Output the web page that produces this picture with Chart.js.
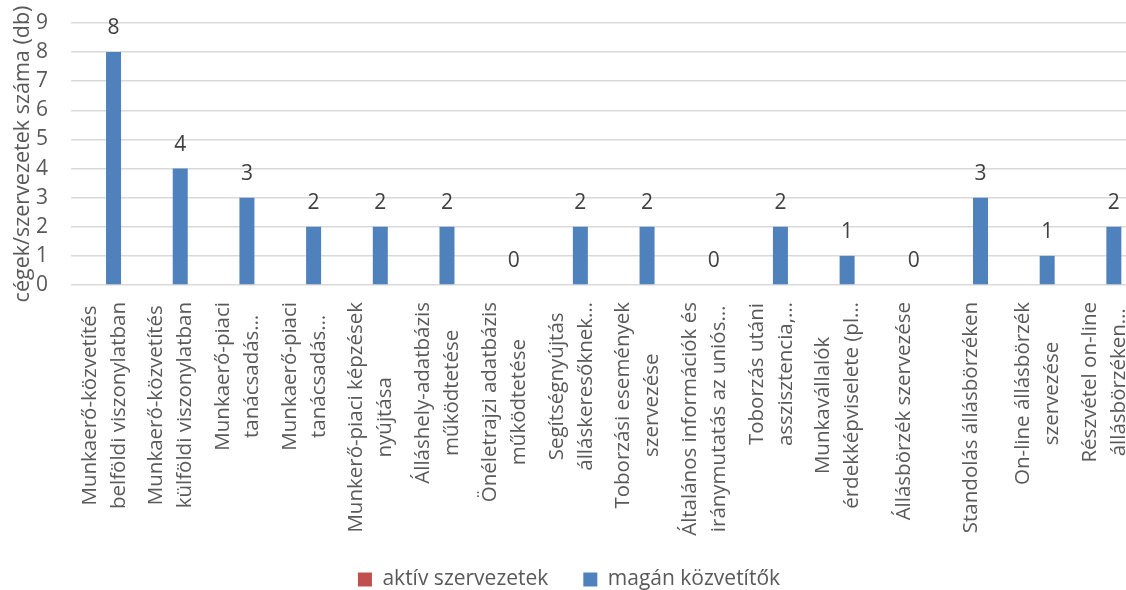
<!DOCTYPE html>
<html>
<head>
<meta charset="utf-8">
<script src="https://cdn.jsdelivr.net/npm/chart.js@4.4.0/dist/chart.umd.min.js"></script>
<style>
  html, body { margin: 0; padding: 0; background: #fff; overflow: hidden; }
  #wrap { width: 1138px; height: 600px; }
</style>
</head>
<body>
<div id="wrap"><canvas id="chart"></canvas></div>
<script>
// kategóriák (a hosszú feliratok az eredetiben is csonkolva)
const categories = [
  ['Munkaerő-közvetítés', 'belföldi viszonylatban'],
  ['Munkaerő-közvetítés', 'külföldi viszonylatban'],
  ['Munkaerő-piaci', 'tanácsadás…'],
  ['Munkaerő-piaci', 'tanácsadás…'],
  ['Munkerő-piaci képzések', 'nyújtása'],
  ['Álláshely-adatbázis', 'működtetése'],
  ['Önéletrajzi adatbázis', 'működtetése'],
  ['Segítségnyújtás', 'álláskeresőknek…'],
  ['Toborzási események', 'szervezése'],
  ['Általános információk és', 'iránymutatás az uniós…'],
  ['Toborzás utáni', 'asszisztencia,…'],
  ['Munkavállalók', 'érdekképviselete (pl…'],
  ['Állásbörzék szervezése'],
  ['Standolás állásbörzéken'],
  ['On-line állásbörzék', 'szervezése'],
  ['Részvétel on-line', 'állásbörzéken…']
];
const aktivSzervezetek = [0, 0, 0, 0, 0, 0, 0, 0, 0, 0, 0, 0, 0, 0, 0, 0];
const maganKozvetitok = [8, 4, 3, 2, 2, 2, 0, 2, 2, 0, 2, 1, 0, 3, 1, 2];
const yTicks = [0, 1, 2, 3, 4, 5, 6, 7, 8, 9];

const FONT = "'Open Sans', 'DejaVu Sans', sans-serif";
const GREY = '#595959';

// x feliratok: soronként középre igazítva, 90 fokkal elforgatva
const xLabelPlugin = {
  id: 'xLabels',
  afterDraw(chart) {
    const ctx = chart.ctx;
    const xs = chart.scales.x;
    const top = xs.top + 17;
    const lineGap = 29;
    ctx.save();
    ctx.font = '20.5px ' + FONT;
    ctx.fillStyle = GREY;
    ctx.textAlign = 'center';
    ctx.textBaseline = 'middle';
    categories.forEach(function(lines, i) {
      const cx = xs.getPixelForTick(i);
      let maxW = 0;
      lines.forEach(function(l) { maxW = Math.max(maxW, ctx.measureText(l).width); });
      lines.forEach(function(l, j) {
        const x = cx + (j - (lines.length - 1) / 2) * lineGap;
        ctx.save();
        ctx.translate(x, top + maxW / 2);
        ctx.rotate(-Math.PI / 2);
        ctx.fillText(l, 0, 0);
        ctx.restore();
      });
    });
    ctx.restore();
  }
};

// értékfeliratok a kék oszlopok fölött
const valueLabelPlugin = {
  id: 'valueLabels',
  afterDatasetsDraw(chart) {
    const ctx = chart.ctx;
    const meta = chart.getDatasetMeta(1);
    ctx.save();
    ctx.font = '21px ' + FONT;
    ctx.fillStyle = '#404040';
    ctx.textAlign = 'center';
    ctx.textBaseline = 'alphabetic';
    meta.data.forEach(function(bar, i) {
      ctx.fillText(String(maganKozvetitok[i]), bar.x, bar.y - 18);
    });
    ctx.restore();
  }
};

new Chart(document.getElementById('chart'), {
  type: 'bar',
  data: {
    labels: categories,
    datasets: [
      {
        label: 'aktív szervezetek',
        data: aktivSzervezetek,
        backgroundColor: '#C0504D',
        categoryPercentage: 0.552,
        barPercentage: 0.815
      },
      {
        label: 'magán közvetítők',
        data: maganKozvetitok,
        backgroundColor: '#4F81BD',
        categoryPercentage: 0.552,
        barPercentage: 0.815
      }
    ]
  },
  options: {
    responsive: true,
    maintainAspectRatio: false,
    animation: false,
    layout: { padding: { top: 23, left: 0, right: 0, bottom: 0 } },
    plugins: {
      legend: {
        position: 'bottom',
        labels: {
          boxWidth: 14,
          boxHeight: 14,
          padding: 35,
          color: GREY,
          font: { family: FONT, size: 21 }
        }
      },
      tooltip: { enabled: false }
    },
    scales: {
      x: {
        grid: { display: false },
        border: { display: false },
        ticks: { display: false },
        afterFit: function(scale) { scale.height = 249; }
      },
      y: {
        min: 0,
        max: 9,
        afterBuildTicks: function(scale) {
          scale.ticks = yTicks.map(function(v) { return { value: v }; });
        },
        grid: {
          color: '#D9D9D9',
          lineWidth: 1.5,
          drawTicks: true,
          tickLength: 15,
          tickColor: 'rgba(0,0,0,0)'
        },
        border: { display: false },
        ticks: { color: GREY, padding: 8, autoSkip: false, font: { family: FONT, size: 21 } },
        title: {
          display: true,
          text: 'cégek/szervezetek száma (db)',
          color: GREY,
          padding: { top: 10, bottom: 0 },
          font: { family: FONT, size: 21.5 }
        },
        afterFit: function(scale) { scale.width = 71; }
      }
    }
  },
  plugins: [xLabelPlugin, valueLabelPlugin]
});
</script>
</body>
</html>
